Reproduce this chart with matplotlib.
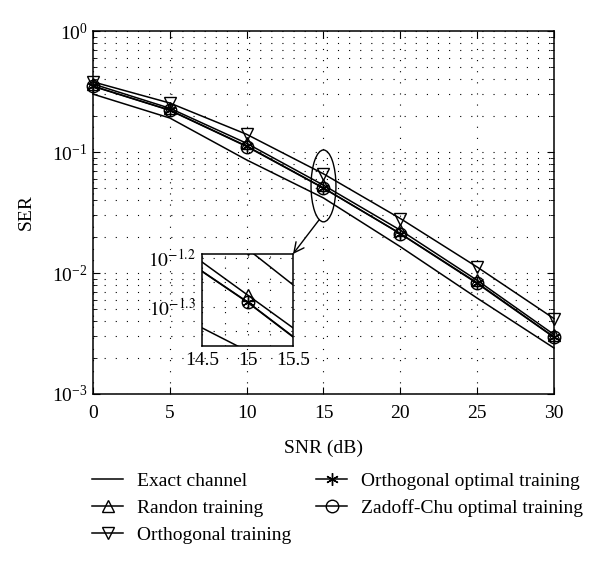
import matplotlib
matplotlib.use("Agg")
import matplotlib.pyplot as plt
from matplotlib.patches import Ellipse
from matplotlib.ticker import NullLocator, FixedLocator, NullFormatter
import numpy as np

plt.rcParams['font.family'] = ['Liberation Serif', 'DejaVu Serif']
plt.rcParams['mathtext.fontset'] = 'stix'
plt.rcParams['font.size'] = 14

# SNR points and SER curves
snr = [0, 5, 10, 15, 20, 25, 30]
exact = [0.301, 0.191, 0.086, 0.0417, 0.0165, 0.0062, 0.0024]
randon = [0.365, 0.230, 0.118, 0.0532, 0.0226, 0.0087, 0.0031]
orth_train = [0.380, 0.254, 0.140, 0.066, 0.0282, 0.0112, 0.0042]
orth_opt = [0.351, 0.222, 0.112, 0.0505, 0.0212, 0.0083, 0.00296]
zc_opt = [0.349, 0.221, 0.111, 0.0502, 0.0211, 0.0082, 0.00294]

# zoomed panel around 15 dB (values read on the inset's own axis)
inset_snr = [14.5, 15, 15.5]
inset_exact = [0.0454, 0.0407, 0.0363]
inset_randon = [0.0619, 0.0530, 0.0454]
inset_orth_train = [0.0776, 0.0658, 0.0556]
inset_orth_opt = [0.0593, 0.0513, 0.0436]
inset_zc_opt = [0.0592, 0.0512, 0.0435]

labels = ["Exact channel", "Randon training", "Orthogonal training",
          "Orthogonal optimal training", "Zadoff-Chu optimal training"]
markers = [None, '^', 'v', (6, 2, 0), 'o']

grid_kw = dict(color='k', linestyle=(0, (1, 9)), linewidth=0.8)

fig = plt.figure(figsize=(6, 5.61), dpi=100)
ax = fig.add_axes([0.155, 0.2977, 0.7683, 0.647])

series = [exact, randon, orth_train, orth_opt, zc_opt]
handles = []
for ys, lab, mk in zip(series, labels, markers):
    h, = ax.plot(snr, ys, color='k', lw=1.1, marker=mk, ms=9,
                 mfc='none', mec='k', mew=1.0, label=lab, clip_on=False)
    handles.append(h)

ax.set_yscale('log')
ax.set_xlim(0, 30)
ax.set_ylim(1e-3, 1)
ax.set_xticks(snr)
ax.set_xticklabels([str(s) for s in snr])
ax.tick_params(which='both', direction='in', top=True, right=True, labelsize=14)
ax.tick_params(which='major', length=5)
ax.tick_params(which='minor', length=3)
ax.tick_params(axis='x', pad=8)
ax.tick_params(axis='y', pad=4)
ax.xaxis.set_minor_locator(NullLocator())
ax.grid(True, which='major', axis='x', **grid_kw)
ax.grid(True, which='both', axis='y', **grid_kw)
ax.set_xlabel("SNR (dB)", fontsize=14, labelpad=13)
ax.set_ylabel("SER", fontsize=14, labelpad=12)
for sp in ax.spines.values():
    sp.set_linewidth(1.1)

# ellipse around the 15 dB points
ic = snr.index(15)
cy = np.sqrt(orth_train[ic] * exact[ic])
cx_ax, cy_ax = ax.transAxes.inverted().transform(ax.transData.transform((15, cy)))
ew, eh = 0.054, 0.198
ax.add_patch(Ellipse((cx_ax, cy_ax), ew, eh, transform=ax.transAxes,
                     fill=False, ec='k', lw=1.0, zorder=5))

# inset
ax_in = fig.add_axes([202 / 600, 1 - 346 / 561, 91 / 600, 92 / 561])
inset_series = [inset_exact, inset_randon, inset_orth_train, inset_orth_opt, inset_zc_opt]
for ys, mk in zip(inset_series, markers):
    ax_in.plot(inset_snr, ys, color='k', lw=1.1, marker=mk, ms=9,
               mfc='none', mec='k', mew=1.0, markevery=[1])
ax_in.set_yscale('log')
ax_in.set_xlim(14.5, 15.5)
ax_in.set_ylim(10 ** -1.38, 10 ** -1.192)
ax_in.xaxis.set_major_locator(FixedLocator(inset_snr))
ax_in.set_xticklabels(["14.5", "15", "15.5"])
ax_in.xaxis.set_minor_locator(FixedLocator([14.75, 15.25]))
ax_in.yaxis.set_major_locator(FixedLocator([10 ** -1.3, 10 ** -1.2]))
ax_in.set_yticklabels([r"$10^{-1.3}$", r"$10^{-1.2}$"])
ax_in.yaxis.set_minor_locator(FixedLocator([10 ** -1.35, 10 ** -1.25]))
ax_in.yaxis.set_minor_formatter(NullFormatter())
ax_in.tick_params(which='both', direction='in', length=0, labelsize=14, pad=4)
ax_in.grid(True, which='both', **grid_kw)
for sp in ax_in.spines.values():
    sp.set_linewidth(1.1)

# arrow from ellipse to inset corner
t = np.deg2rad(-110)
ax_pt = (cx_ax + ew / 2 * np.cos(t), cy_ax + eh / 2 * np.sin(t))
corner = ax_in.get_position()
ax.annotate("", xy=(corner.x1, corner.y1), xycoords='figure fraction',
            xytext=ax_pt, textcoords='axes fraction',
            arrowprops=dict(arrowstyle='->', color='k', lw=1.0,
                            mutation_scale=18, shrinkA=0, shrinkB=0))

fig.legend(handles=handles, loc='upper left', bbox_to_anchor=(92 / 600, 1 - 472 / 561),
           ncol=2, frameon=False, fontsize=14, handlelength=1.6, handletextpad=0.7,
           columnspacing=1.3, labelspacing=0.48, borderpad=0, borderaxespad=0)

fig.savefig("out.png", dpi=100)
